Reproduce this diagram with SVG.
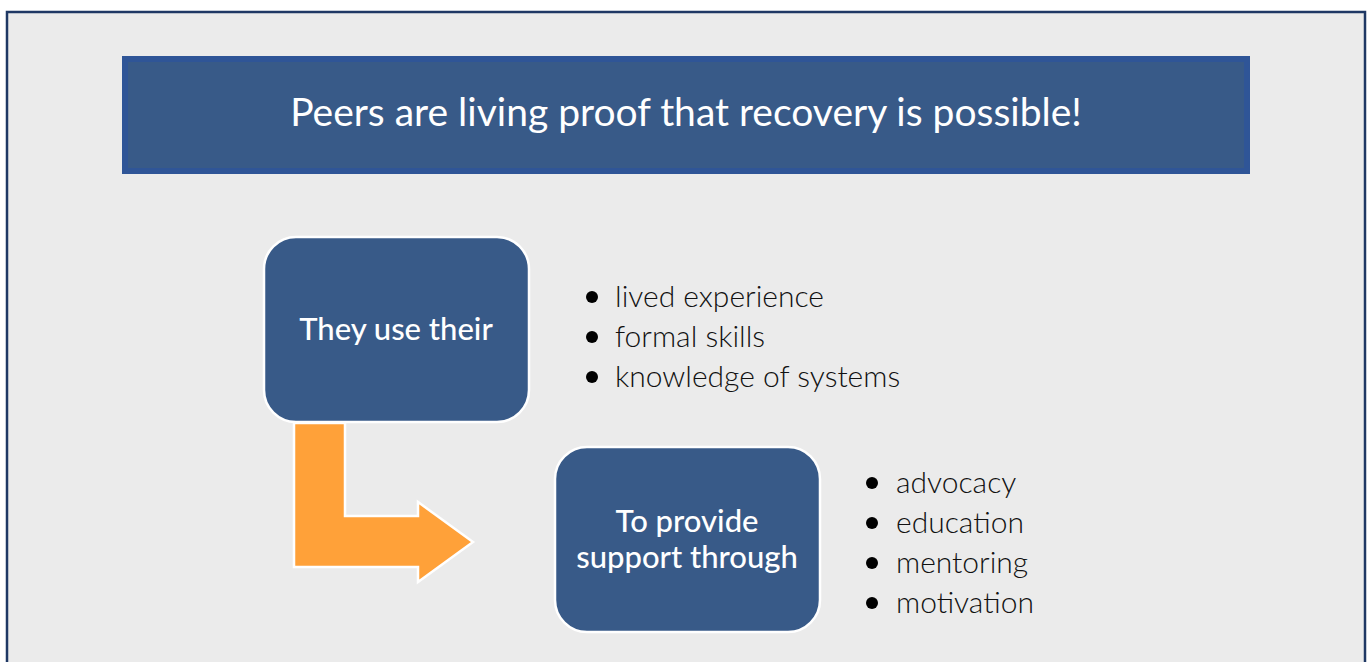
<svg xmlns="http://www.w3.org/2000/svg" width="1369" height="662" viewBox="0 0 1369 662">
  <style>
    .box { fill: #385a88; stroke: #ffffff; stroke-width: 2.5; }
    .boxtext { font-family: Lato, "Open Sans", sans-serif; font-weight: 500; font-size: 31px; fill: #ffffff; text-anchor: middle; }
    .item { font-family: Lato, "Open Sans", sans-serif; font-weight: 300; font-size: 30px; fill: #111111; }
    .dot { fill: #000000; }
  </style>

  <!-- page background and frame -->
  <rect x="0" y="0" width="1369" height="662" fill="#ffffff"/>
  <rect x="7" y="12" width="1358" height="660" fill="#ebebeb" stroke="#1f3864" stroke-width="2.5"/>

  <!-- title banner -->
  <g id="banner">
    <rect x="125" y="59" width="1122" height="112" fill="#385a88" stroke="#2f5597" stroke-width="6"/>
    <text x="686" y="126" font-family="Lato, 'Open Sans', sans-serif" font-size="39" fill="#ffffff" text-anchor="middle">Peers are living proof that recovery is possible!</text>
  </g>

  <!-- connectors -->
  <g id="connectors">
    <polygon points="294,423 345,423 345,516 418,516 418,502 473,542 418,582 418,567 294,567" fill="#ffa139" stroke="#ffffff" stroke-width="2.5" stroke-linejoin="miter"/>
  </g>

  <!-- first step -->
  <g id="node-use">
    <rect class="box" x="264" y="237" width="265" height="185" rx="32" ry="32"/>
    <text class="boxtext" x="396" y="340">They use their</text>
  </g>

  <g id="list-use">
    <circle class="dot" cx="592" cy="297" r="6"/>
    <text class="item" x="615" y="307">lived experience</text>
    <circle class="dot" cx="592" cy="337" r="6"/>
    <text class="item" x="615" y="347">formal skills</text>
    <circle class="dot" cx="592" cy="377" r="6"/>
    <text class="item" x="615" y="387">knowledge of systems</text>
  </g>

  <!-- second step -->
  <g id="node-support">
    <rect class="box" x="555" y="447" width="265" height="185" rx="32" ry="32"/>
    <text class="boxtext" x="687" y="532">To provide</text>
    <text class="boxtext" x="687" y="568">support through</text>
  </g>

  <g id="list-support">
    <circle class="dot" cx="872" cy="483" r="6"/>
    <text class="item" x="896" y="493">advocacy</text>
    <circle class="dot" cx="872" cy="523" r="6"/>
    <text class="item" x="896" y="533">education</text>
    <circle class="dot" cx="872" cy="563" r="6"/>
    <text class="item" x="896" y="573">mentoring</text>
    <circle class="dot" cx="872" cy="603" r="6"/>
    <text class="item" x="896" y="613">motivation</text>
  </g>
</svg>
